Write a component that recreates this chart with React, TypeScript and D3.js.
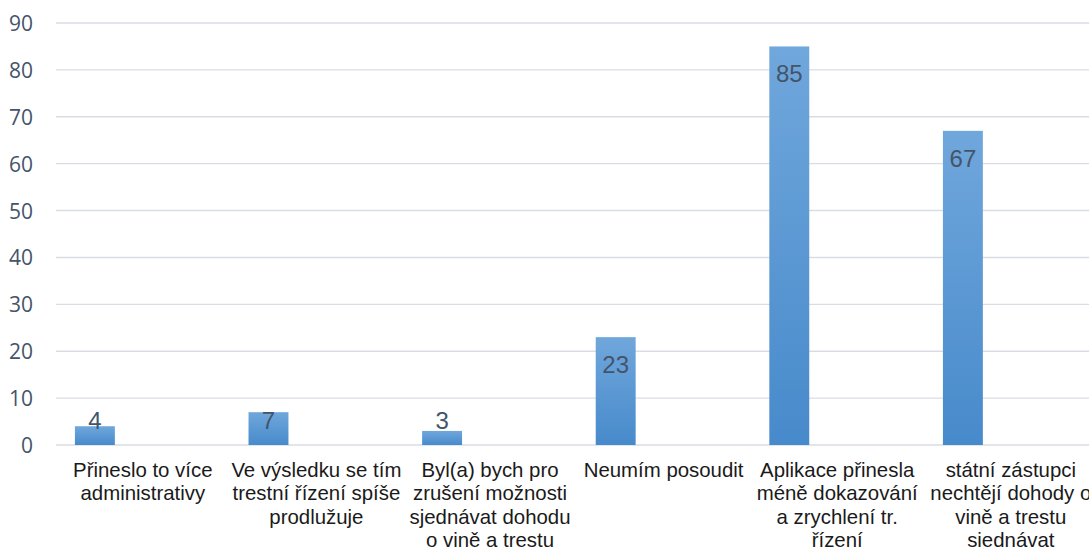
import React, { useEffect, useRef } from 'react';
import * as d3 from 'd3';

const categories = [
  'Přineslo to více administrativy',
  'Ve výsledku se tím trestní řízení spíše prodlužuje',
  'Byl(a) bych pro zrušení možnosti sjednávat dohodu o vině a trestu',
  'Neumím posoudit',
  'Aplikace přinesla méně dokazování a zrychlení tr. řízení',
  'státní zástupci nechtějí dohody o vině a trestu sjednávat',
];

// wrapped lines as they appear under the axis
const categoryLines = [
  ['Přineslo to více', 'administrativy'],
  ['Ve výsledku se tím', 'trestní řízení spíše', 'prodlužuje'],
  ['Byl(a) bych pro', 'zrušení možnosti', 'sjednávat dohodu', 'o vině a trestu'],
  ['Neumím posoudit'],
  ['Aplikace přinesla', 'méně dokazování', 'a zrychlení tr.', 'řízení'],
  ['státní zástupci', 'nechtějí dohody o', 'vině a trestu', 'sjednávat'],
];

const values = [4, 7, 3, 23, 85, 67];

const yTicks = [0, 10, 20, 30, 40, 50, 60, 70, 80, 90];

const App: React.FC = () => {
  const svgRef = useRef<SVGSVGElement>(null);

  useEffect(() => {
    document.body.style.margin = '0';
    if (!svgRef.current) return;

    const width = 1089;
    const height = 547;
    const left = 56;
    const bandW = 173.6;
    const top = 23;
    const bottom = 445;

    const svg = d3.select(svgRef.current);
    svg.selectAll('*').remove();
    svg.attr('width', width).attr('height', height).attr('viewBox', `0 0 ${width} ${height}`);

    const defs = svg.append('defs');
    const grad = defs
      .append('linearGradient')
      .attr('id', 'barGrad')
      .attr('x1', 0)
      .attr('y1', 0)
      .attr('x2', 0)
      .attr('y2', 1);
    grad.append('stop').attr('offset', '0%').attr('stop-color', '#70a7dc');
    grad.append('stop').attr('offset', '100%').attr('stop-color', '#478acb');

    const x = d3
      .scaleBand<string>()
      .domain(categories)
      .range([left, left + bandW * categories.length])
      .padding(0);

    const y = d3.scaleLinear().domain([0, 90]).range([bottom, top]);

    // gridlines
    svg
      .append('g')
      .selectAll('line')
      .data(yTicks)
      .join('line')
      .attr('x1', left)
      .attr('x2', width)
      .attr('y1', (d) => y(d))
      .attr('y2', (d) => y(d))
      .attr('stroke', '#d9dde3')
      .attr('stroke-width', 1.4);

    // y tick labels
    svg
      .append('g')
      .selectAll('text')
      .data(yTicks)
      .join('text')
      .attr('x', 33)
      .attr('y', (d) => y(d) + 8)
      .attr('text-anchor', 'end')
      .attr('font-family', '"Open Sans", "Liberation Sans", sans-serif')
      .attr('font-size', 21)
      .attr('fill', '#44546a')
      .text((d) => d);

    const bw = x.bandwidth();
    const barX = (c: string) => (x(c) ?? 0) + bw * 0.109;
    const barW = bw * 0.23;

    // bars
    svg
      .append('g')
      .selectAll('rect')
      .data(values)
      .join('rect')
      .attr('x', (_, i) => barX(categories[i]))
      .attr('width', barW)
      .attr('y', (d) => y(d))
      .attr('height', (d) => y(0) - y(d))
      .attr('fill', 'url(#barGrad)');

    // data labels
    svg
      .append('g')
      .selectAll('text')
      .data(values)
      .join('text')
      .attr('x', (_, i) => barX(categories[i]) + barW / 2)
      .attr('y', (d) => Math.min(y(d) + 36, bottom - 16))
      .attr('text-anchor', 'middle')
      .attr('font-family', '"Liberation Sans", Arial, sans-serif')
      .attr('font-size', 24)
      .attr('fill', '#44546a')
      .text((d) => d);

    // category labels
    const cat = svg
      .append('g')
      .selectAll('text')
      .data(categories)
      .join('text')
      .attr('text-anchor', 'middle')
      .attr('font-family', '"Liberation Sans", Arial, sans-serif')
      .attr('font-size', 20.4)
      .attr('fill', '#1a1a1a');

    cat.each(function (c, i) {
      const t = d3.select(this);
      const cx = (x(c) ?? 0) + bw / 2;
      categoryLines[i].forEach((line, j) => {
        t.append('tspan')
          .attr('x', cx)
          .attr('y', 477 + j * 23.3)
          .text(line);
      });
    });
  }, []);

  return <svg ref={svgRef} style={{ display: 'block' }} />;
};

export default App;
